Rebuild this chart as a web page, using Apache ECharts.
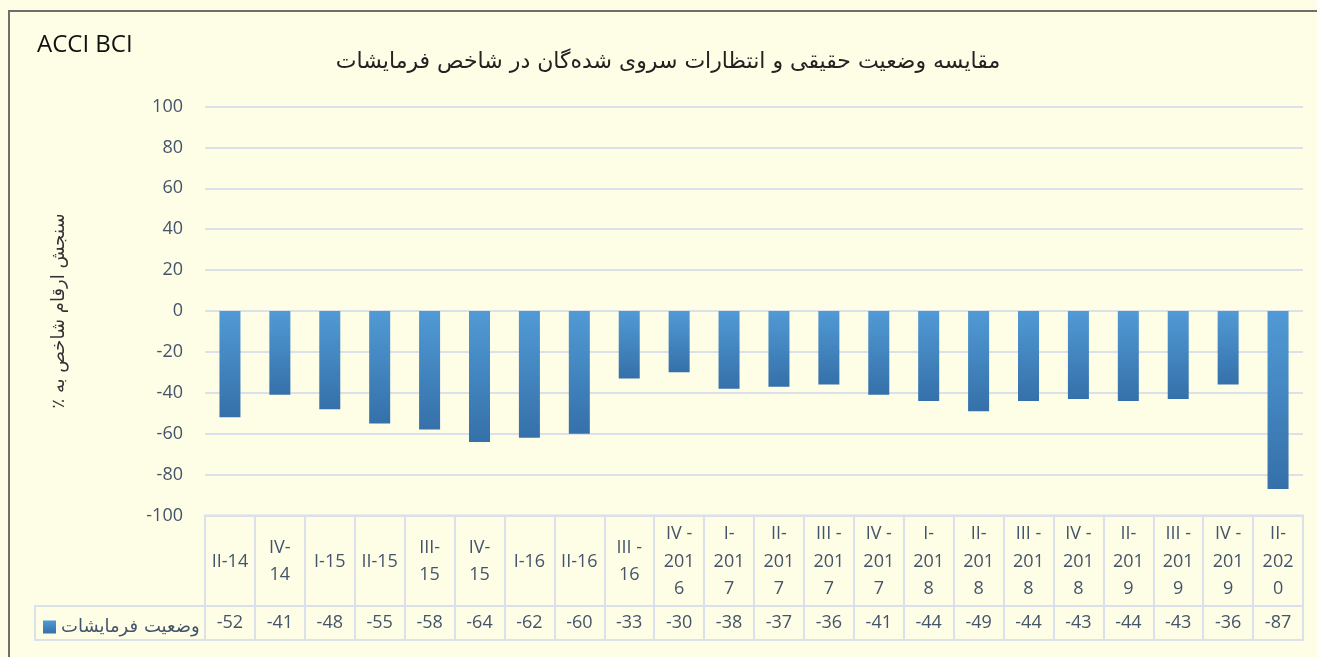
<!DOCTYPE html>
<html>
<head>
    <meta charset="utf-8">
    <title>ACCI BCI</title>
    <script src="https://cdn.jsdelivr.net/npm/echarts@6/dist/echarts.min.js"></script>
    <style>
        html, body {
            margin: 0;
            padding: 0;
            width: 1317px;
            height: 657px;
            overflow: hidden;
            position: relative;
            background: #fefde6;
        }
        #frame {
            position: absolute;
            left: 8px;
            top: 10px;
            width: 1330px;
            height: 660px;
            border-left: 2px solid #6e6e6e;
            border-top: 2px solid #6e6e6e;
        }
        #chart-container {
            position: absolute;
            left: 0;
            top: 0;
            width: 1317px;
            height: 657px;
        }
    </style>
</head>
<body>
<div id="frame"></div>
<div id="chart-container"></div>

<script>
    // 数据
    var categories = [
        'II-14', 'IV-\n14', 'I-15', 'II-15', 'III-\n15', 'IV-\n15', 'I-16', 'II-16',
        'III -\n16', 'IV -\n201\n6', 'I-\n201\n7', 'II-\n201\n7', 'III -\n201\n7', 'IV -\n201\n7',
        'I-\n201\n8', 'II-\n201\n8', 'III -\n201\n8', 'IV -\n201\n8', 'II-\n201\n9', 'III -\n201\n9',
        'IV -\n201\n9', 'II-\n202\n0'
    ];
    var orders = [-52, -41, -48, -55, -58, -64, -62, -60, -33, -30, -38, -37, -36, -41, -44, -49, -44, -43, -44, -43, -36, -87];
    var seriesName = 'وضعیت فرمایشات';

    var textColor = '#44546a';
    var lineColor = '#dbe0ea';
    var fontFamily = '"Open Sans", "DejaVu Sans", sans-serif';
    var arabicFont = '"DejaVu Sans", sans-serif';

    var myChart = echarts.init(document.getElementById('chart-container'));

    var option = {
        textStyle: { fontFamily: fontFamily },
        title: {
            text: 'ACCI BCI',
            left: 32,
            top: 28,
            textStyle: { fontSize: 24, fontWeight: 'normal', color: '#111', fontFamily: fontFamily }
        },
        graphic: [
            {
                type: 'text',
                x: 668,
                y: 62,
                style: {
                    text: 'مقایسه وضعیت حقیقی و انتظارات سروی شده\u200cگان در شاخص فرمایشات',
                    align: 'center',
                    verticalAlign: 'middle',
                    fontSize: 22,
                    fill: '#222',
                    fontFamily: arabicFont
                }
            }
        ],
        legend: {
            data: [seriesName],
            left: 38,
            top: 613,
            icon: 'rect',
            itemWidth: 13,
            itemHeight: 13,
            itemGap: 5,
            textStyle: { fontSize: 18, color: textColor, fontFamily: arabicFont }
        },
        grid: [
            { left: 205, right: 14, top: 106.5, height: 409 },
            { left: 205, right: 14, top: 515.5, height: 124.5, show: true, borderColor: lineColor, borderWidth: 2 },
            { left: 35, right: 14, top: 606, height: 34, show: true, borderColor: lineColor, borderWidth: 2 }
        ],
        xAxis: [
            {
                gridIndex: 0,
                type: 'category',
                data: categories,
                axisLine: { show: false },
                axisTick: { show: false },
                axisLabel: {
                    interval: 0,
                    margin: 46,
                    verticalAlign: 'middle',
                    lineHeight: 27.5,
                    fontSize: 18,
                    color: textColor
                }
            },
            {
                gridIndex: 1,
                type: 'category',
                data: categories,
                axisLine: { show: false },
                axisTick: { show: false },
                splitLine: { show: true, interval: 0, lineStyle: { color: lineColor, width: 2 } },
                axisLabel: {
                    interval: 0,
                    inside: true,
                    margin: 17,
                    verticalAlign: 'middle',
                    fontSize: 18,
                    color: textColor,
                    formatter: function (value, index) {
                        return orders[index];
                    }
                }
            },
            { gridIndex: 2, type: 'category', show: false, data: categories }
        ],
        yAxis: [
            {
                gridIndex: 0,
                type: 'value',
                min: -100,
                max: 100,
                interval: 20,
                axisLine: { show: false },
                axisTick: { show: false },
                axisLabel: { fontSize: 18, color: textColor, margin: 22 },
                splitLine: { lineStyle: { color: lineColor, width: 2 } },
                name: 'سنجش ارقام شاخص به ٪\u200f',
                nameLocation: 'middle',
                nameGap: 137,
                nameTextStyle: { fontSize: 18, color: '#333', fontFamily: arabicFont }
            },
            { gridIndex: 1, type: 'value', show: false },
            { gridIndex: 2, type: 'value', show: false }
        ],
        series: [
            {
                name: seriesName,
                type: 'bar',
                xAxisIndex: 0,
                yAxisIndex: 0,
                data: orders,
                barWidth: 21,
                itemStyle: {
                    color: new echarts.graphic.LinearGradient(0, 0, 0, 1, [
                        { offset: 0, color: '#519ad5' },
                        { offset: 1, color: '#3570a9' }
                    ]),
                    shadowColor: 'rgba(60, 50, 20, 0.35)',
                    shadowBlur: 5,
                    shadowOffsetX: 1,
                    shadowOffsetY: 3
                }
            }
        ]
    };

    myChart.setOption(option);
</script>
</body>
</html>
